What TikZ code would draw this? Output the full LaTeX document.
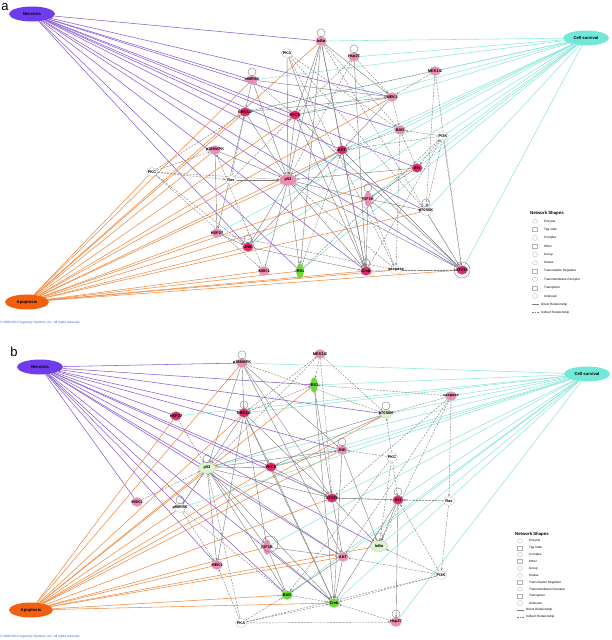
\documentclass[tikz,border=0pt]{standalone}
\usepackage{fontspec}
\setmainfont{Liberation Sans}
\usetikzlibrary{arrows.meta,backgrounds,shapes.geometric}
\definecolor{necc}{HTML}{6E3CEB}
\definecolor{necl}{HTML}{8A5CD8}
\definecolor{apoc}{HTML}{F2600F}
\definecolor{apol}{HTML}{F08A40}
\definecolor{surc}{HTML}{72E8D8}
\definecolor{surl}{HTML}{8EE6DA}
\definecolor{pinkn}{HTML}{F08CB4}
\definecolor{redn}{HTML}{E0286A}
\definecolor{greenn}{HTML}{66DD30}
\definecolor{lgreen}{HTML}{DDF5CC}
\definecolor{edgec}{HTML}{7C7C7C}
\definecolor{copyc}{HTML}{3A5BC8}
\tikzset{
 gn/.style={ellipse, draw=gray!55, line width=0.3pt, minimum width=11pt, minimum height=9pt, inner sep=0pt},
 pk/.style={gn, fill=pinkn},
 rd/.style={gn, fill=redn},
 wh/.style={gn, fill=white},
 gr/.style={gn, fill=greenn},
 lg/.style={gn, fill=lgreen},
 big/.style={minimum width=17pt, minimum height=11pt},
 tall/.style={minimum width=7pt, minimum height=15pt},
 lbl/.style={font=\fontsize{3.9}{4}\selectfont\bfseries, inner sep=0pt, text=black},
 dis/.style={ellipse, minimum width=46pt, minimum height=15pt, inner sep=0pt, font=\fontsize{4.2}{5}\selectfont\bfseries},
 nec/.style={necl, line width=0.55pt},
 apo/.style={apol, line width=0.55pt},
 sur/.style={surl, line width=0.55pt},
 dir/.style={edgec, line width=0.4pt, -{Stealth[length=2.2pt,width=2pt]}},
 ind/.style={dir, dash pattern=on 2pt off 1.2pt},
 lp/.style={edgec, line width=0.4pt},
 legtxt/.style={anchor=west, font=\fontsize{3.1}{3.5}\selectfont, inner sep=0pt},
 legico/.style={draw=gray!60, line width=0.3pt, minimum width=5pt, minimum height=4pt, inner sep=0pt},
}
\newcommand\gnode[5]{\node[#1, label={[lbl]center:#5}] (#2) at (#3,#4) {};}
\newcommand\legendat[4]{%
 \node[anchor=west, font=\fontsize{4.3}{5}\selectfont\bfseries, inner sep=0pt] (#4t) at (#1,#2) {Network Shapes};
 \foreach \lab/\shp [count=\i] in {Enzyme/ellipse, Tag node/rectangle, Complex/circle, Other/rectangle, Group/circle, Kinase/ellipse, Transcription Regulator/rectangle, Transmembrane Receptor/ellipse, Transporter/rectangle, Unknown/circle} {
   \node[legtxt] (#4l\i) at (#1+14,#2+\i*#3) {\lab};
   \node[legico, shape=\shp] (#4i\i) at (#1+5,#2+\i*#3) {};
 }
 \coordinate (#4d1) at (#1+2,#2+11*#3); \coordinate (#4d2) at (#1+9,#2+11*#3);
 \draw[edgec, line width=0.5pt] (#4d1) -- (#4d2);
 \node[legtxt] (#4l11) at (#1+11,#2+11*#3) {Direct Relationship};
 \coordinate (#4e1) at (#1+2,#2+12*#3); \coordinate (#4e2) at (#1+9,#2+12*#3);
 \draw[edgec, line width=0.5pt, dash pattern=on 1.5pt off 1pt] (#4e1) -- (#4e2);
 \node[legtxt] (#4l12) at (#1+11,#2+12*#3) {Indirect Relationship};
}
\begin{document}
\begin{tikzpicture}[x=1pt,y=-1pt]
\useasboundingbox (0,0) rectangle (612,640);

% ================= PANEL A =================
\node[font=\fontsize{13}{13}\selectfont, inner sep=0pt] (la) at (5,7) {a};
\node[dis, fill=necc] (aNec) at (32,14) {Necrosis};
\node[dis, fill=surc] (aSur) at (586,38) {Cell survival};
\node[dis, fill=apoc, minimum width=44pt] (aApo) at (27,302) {Apoptosis};
\node[anchor=west, font=\fontsize{3.2}{3.5}\selectfont, text=copyc, inner sep=0pt] (copya) at (0,323) {© 2000-2013 Ingenuity Systems, Inc. All rights reserved.};

\gnode{pk}{aIkB}{321}{41}{IκBα}
\gnode{pk}{aHsp}{354}{57}{Hsp27}
\gnode{wh}{aPKA}{287}{53}{PKA}
\gnode{pk}{aRSK}{252}{80}{p90RSK}
\gnode{pk}{aMEK12}{435}{71}{MEK1/2}
\gnode{pk}{aMEK1}{392}{97}{MEK1}
\gnode{rd}{aERK}{245}{112}{ERK1/2}
\gnode{rd}{aPKCd}{295}{115}{PKCδ}
\gnode{pk}{aBAD}{400}{130}{BAD}
\gnode{wh}{aPI3K}{443}{136}{PI3K}
\gnode{rd}{aAKT}{342}{150}{AKT}
\gnode{pk}{aP38}{215}{150}{p38MAPK}
\gnode{wh}{aPKC}{152}{172}{PKC}
\gnode{wh}{aRas}{231}{180}{Ras}
\gnode{rd}{aAkt}{417}{168}{Akt}
\gnode{pk,big}{aP53}{288}{180}{p53}
\gnode{pk,tall}{aIGF}{368}{199}{IGF1R}
\gnode{wh}{aS6K}{426}{211}{p70S6K}
\gnode{pk}{aHSP}{217}{233}{HSP27}
\gnode{rd}{aJNK}{248}{247}{JNK}
\gnode{pk}{aMSK}{264}{271}{MSK1}
\gnode{gr,tall}{aIRS}{300}{271}{IRS1}
\gnode{rd}{aCreb}{366}{271}{Creb}
\gnode{wh}{aCasp}{396}{270}{caspase}
\gnode{rd}{aSTAT}{462}{270}{STAT3}
\draw[lp] (aSTAT) circle[radius=8pt];
\foreach \n in {aIkB,aHsp,aRSK,aIGF,aS6K,aJNK,aCreb}
  \draw[lp] (\n.north) ++(0,-3.5) circle[radius=4pt];

\legendat{530}{213}{8.3}{lga}

\begin{pgfonlayer}{background}
\foreach \t in {aIkB,aRSK,aMEK1,aBAD,aAkt,aS6K,aSTAT,aJNK,aIRS,aERK,aPKCd,aAKT,aP53,aCreb}
  \draw[nec] (aNec) -- (\t);
\foreach \t in {aIkB,aRSK,aERK,aPKCd,aAKT,aMEK1,aAkt,aP53,aIGF,aS6K,aHSP,aJNK,aMSK,aIRS,aCreb,aCasp,aSTAT,aPKC,aRas,aP38}
  \draw[apo] (aApo) -- (\t);
\foreach \t in {aIkB,aHsp,aMEK12,aMEK1,aBAD,aPI3K,aAkt,aAKT,aS6K,aIGF,aP53,aERK,aPKCd,aSTAT,aIRS,aJNK,aHSP,aRSK}
  \draw[sur] (aSur) -- (\t);
\foreach \s/\t in {aIkB/aAKT,aIkB/aP53,aIkB/aCreb,aIkB/aMEK1,aIkB/aPKCd,aPKA/aP53,aPKA/aCreb,aRSK/aERK,aRSK/aP53,aRSK/aMEK1,aERK/aP53,aERK/aHSP,aPKCd/aMEK1,aPKCd/aP53,aPKCd/aCreb,aMEK1/aAKT,aAKT/aP53,aAKT/aCreb,aAKT/aJNK,aP53/aIGF,aP53/aJNK,aP53/aIRS,aP53/aCreb,aP53/aMSK,aIGF/aS6K,aIGF/aCreb,aAkt/aP53,aAkt/aIGF,aJNK/aCreb,aHSP/aJNK,aP38/aHSP,aP38/aP53,aRas/aP53,aSTAT/aAKT,aSTAT/aP53,aSTAT/aIGF,aSTAT/aPKCd,aMEK1/aERK,aIkB/aIRS,aHsp/aCreb}
  \draw[dir] (\s) -- (\t);
\foreach \s/\t in {aMEK12/aMEK1,aMEK12/aERK,aMEK12/aSTAT,aPI3K/aAkt,aPI3K/aBAD,aPI3K/aS6K,aPI3K/aSTAT,aPI3K/aAKT,aPKC/aP38,aPKC/aRas,aPKC/aP53,aPKC/aERK,aPKC/aMSK,aPKC/aJNK,aHsp/aPKCd,aHsp/aP53,aHsp/aMEK1,aBAD/aAKT,aBAD/aAkt,aBAD/aCasp,aRas/aERK,aRas/aPKCd,aCasp/aSTAT,aCasp/aP53,aCasp/aIGF,aS6K/aSTAT,aMSK/aP38,aIRS/aAKT,aIRS/aPI3K,aPKA/aBAD,aPKA/aCasp,aRSK/aPKCd,aHSP/aCasp,aCreb/aSTAT,aCreb/aPI3K,aMEK1/aBAD,aIkB/aBAD,aIkB/aSTAT,aPKA/aS6K,aMEK12/aS6K}
  \draw[ind] (\s) -- (\t);
\end{pgfonlayer}

% ================= PANEL B =================
\node[font=\fontsize{13}{13}\selectfont, inner sep=0pt] (lb) at (14,352) {b};
\node[dis, fill=necc] (bNec) at (40,367) {Necrosis};
\node[dis, fill=surc] (bSur) at (587,374) {Cell survival};
\node[dis, fill=apoc, minimum width=44pt] (bApo) at (31,610) {Apoptosis};
\node[anchor=west, font=\fontsize{3.2}{3.5}\selectfont, text=copyc, inner sep=0pt] (copyb) at (0,637) {© 2000-2013 Ingenuity Systems, Inc. All rights reserved.};

\gnode{pk}{bP38}{242}{363}{p38MAPK}
\gnode{pk}{bMEK12}{320}{354}{MEK1/2}
\gnode{gr,tall}{bIRS}{314}{385}{IRS1}
\gnode{pk}{bCasp}{451}{396}{caspase}
\gnode{rd}{bHSPl}{176}{416}{HSP27}
\gnode{rd}{bERK}{244}{413}{ERK1/2}
\gnode{lg}{bS6K}{386}{414}{p70S6K}
\gnode{pk}{bJNK}{342}{450}{JNK}
\gnode{wh}{bPKC}{392}{457}{PKC}
\gnode{lg,big}{bP53}{207}{468}{p53}
\gnode{rd}{bPKCd}{271}{467}{PKCδ}
\gnode{pk}{bMSK}{137}{502}{MSK1}
\gnode{wh}{bRSK}{180}{508}{p90RSK}
\gnode{rd}{bSTAT}{332}{498}{STAT3}
\gnode{rd}{bAkt}{398}{500}{Akt}
\gnode{wh}{bRas}{449}{501}{Ras}
\gnode{pk,tall}{bIGF}{267}{547}{IGF1R}
\gnode{lg,big}{bIkB}{379}{546}{IκBα}
\gnode{pk}{bAKT}{343}{557}{AKT}
\gnode{pk}{bMEK1}{217}{565}{MEK1}
\gnode{wh}{bPI3K}{441}{575}{PI3K}
\gnode{gr}{bBAD}{287}{595}{BAD}
\gnode{gr}{bCreb}{334}{603}{Creb}
\gnode{wh}{bPKA}{241}{623}{PKA}
\gnode{pk}{bHsp}{396}{622}{Hsp27}
\draw[lp] (bIGF) ++(3,-3) circle[radius=8pt];
\foreach \n in {bP38,bERK,bS6K,bJNK,bP53,bRSK,bAkt,bIkB,bHsp}
  \draw[lp] (\n.north) ++(0,-3.5) circle[radius=4pt];

\legendat{515}{534}{6.9}{lgb}

\begin{pgfonlayer}{background}
\foreach \t in {bP38,bIRS,bS6K,bHSPl,bERK,bJNK,bP53,bPKCd,bSTAT,bIkB,bAKT,bBAD,bMSK,bRSK,bCreb,bMEK1}
  \draw[nec] (bNec) -- (\t);
\foreach \t in {bP38,bHSPl,bERK,bIRS,bS6K,bP53,bPKCd,bRSK,bMEK1,bIGF,bAKT,bIkB,bBAD,bCreb,bSTAT,bJNK}
  \draw[apo] (bApo) -- (\t);
\foreach \t in {bP38,bIRS,bCasp,bS6K,bHSPl,bERK,bJNK,bPKCd,bP53,bSTAT,bAkt,bIkB,bAKT,bIGF,bBAD,bCreb,bHsp,bRSK}
  \draw[sur] (bSur) -- (\t);
\foreach \s/\t in {bP38/bERK,bP38/bP53,bP38/bSTAT,bP38/bJNK,bP38/bAKT,bERK/bP53,bERK/bPKCd,bERK/bSTAT,bERK/bMEK1,bERK/bIGF,bERK/bCreb,bP53/bPKCd,bP53/bSTAT,bP53/bAKT,bP53/bIGF,bP53/bBAD,bP53/bCreb,bP53/bMEK1,bP53/bJNK,bP53/bRSK,bPKCd/bSTAT,bPKCd/bCreb,bPKCd/bJNK,bSTAT/bAkt,bSTAT/bAKT,bSTAT/bIkB,bJNK/bCreb,bJNK/bIkB,bAkt/bCreb,bAkt/bHsp,bAkt/bIkB,bIGF/bAKT,bIGF/bBAD,bIGF/bCreb,bAKT/bBAD,bAKT/bCreb,bS6K/bP53,bS6K/bPKCd,bIRS/bCreb,bIRS/bSTAT}
  \draw[dir] (\s) -- (\t);
\foreach \s/\t in {bMEK12/bERK,bMEK12/bSTAT,bMEK12/bS6K,bMEK12/bP53,bCasp/bIRS,bCasp/bRas,bCasp/bAKT,bCasp/bIkB,bCasp/bSTAT,bPKC/bS6K,bPKC/bJNK,bPKC/bBAD,bPKC/bIkB,bPKC/bAkt,bRas/bAkt,bRas/bSTAT,bRas/bPI3K,bPI3K/bIkB,bPI3K/bAkt,bPI3K/bCreb,bPI3K/bPKA,bPI3K/bAKT,bPKA/bBAD,bPKA/bCreb,bPKA/bP53,bPKA/bMEK1,bPKA/bHsp,bHsp/bCreb,bBAD/bCreb,bMSK/bP53,bRSK/bMEK1,bRSK/bP53,bRSK/bBAD,bHSPl/bP53,bERK/bIRS,bP38/bS6K,bMEK12/bIRS,bCasp/bS6K}
  \draw[ind] (\s) -- (\t);
\end{pgfonlayer}
\end{tikzpicture}
\end{document}
